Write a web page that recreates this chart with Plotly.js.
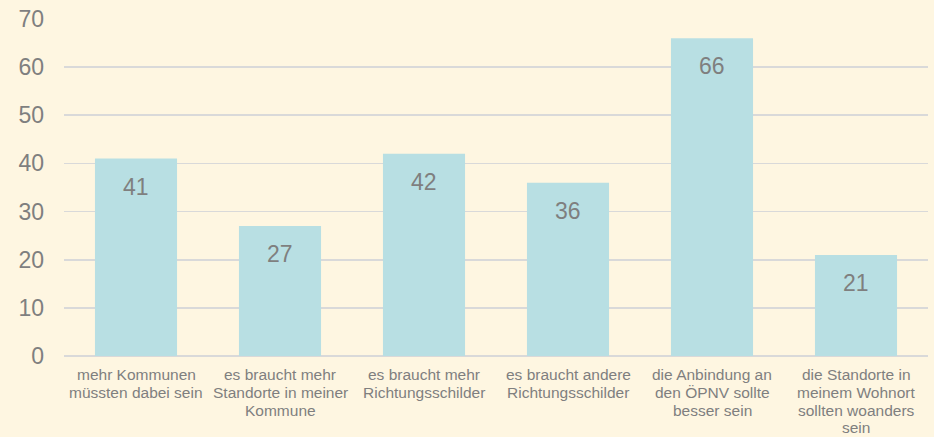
<!DOCTYPE html>
<html>
<head>
<meta charset="utf-8">
<script src="https://cdn.plot.ly/plotly-3.0.1.min.js"></script>
<style>html,body{margin:0;padding:0;background:#FEF6E1;}#chart{width:934px;height:437px;}</style>
</head>
<body>
<div id="chart"></div>
<script>
const categories = [
  "mehr Kommunen müssten dabei sein",
  "es braucht mehr Standorte in meiner Kommune",
  "es braucht mehr Richtungsschilder",
  "es braucht andere Richtungsschilder",
  "die Anbindung an den ÖPNV sollte besser sein",
  "die Standorte in meinem Wohnort sollten woanders sein"
];
const categoryLines = [
  ["mehr Kommunen", "müssten dabei sein"],
  ["es braucht mehr", "Standorte in meiner", "Kommune"],
  ["es braucht mehr", "Richtungsschilder"],
  ["es braucht andere", "Richtungsschilder"],
  ["die Anbindung an", "den ÖPNV sollte", "besser sein"],
  ["die Standorte in", "meinem Wohnort", "sollten woanders", "sein"]
];
const values = [41, 27, 42, 36, 66, 21];
const yTicks = [0, 10, 20, 30, 40, 50, 60, 70];

const FONT = 'Liberation Sans, Arial, sans-serif';
const GREY = '#7F7F7F';

const trace = {
  type: 'bar',
  x: categories,
  y: values,
  marker: {color: '#B8DFE3'},
  width: 0.57,
  hoverinfo: 'x+y'
};

const annotations = [];
categories.forEach((c, i) => {
  annotations.push({
    x: c, y: values[i], xref: 'x', yref: 'y',
    text: String(values[i]), showarrow: false,
    yanchor: 'top', yshift: -13,
    font: {family: FONT, size: 23, color: GREY}
  });
  categoryLines[i].forEach((line, j) => {
    annotations.push({
      x: c, y: 0, xref: 'x', yref: 'y',
      text: line, showarrow: false,
      yanchor: 'middle', yshift: -(18.6 + 17.7 * j),
      font: {family: FONT, size: 15.5, color: GREY}
    });
  });
});

const layout = {
  width: 934, height: 437,
  margin: {l: 64, r: 6, t: 19, b: 81},
  paper_bgcolor: '#FEF6E1',
  plot_bgcolor: '#FEF6E1',
  showlegend: false,
  font: {family: FONT, color: GREY},
  xaxis: {
    type: 'category',
    showticklabels: false,
    showgrid: false, showline: false, ticks: '',
    automargin: false
  },
  yaxis: {
    range: [0, 70],
    tickvals: yTicks,
    ticktext: yTicks.map(String),
    tickfont: {family: FONT, size: 23, color: GREY},
    gridcolor: '#D9D9D9', gridwidth: 1.6,
    zeroline: true, zerolinecolor: '#D9D9D9', zerolinewidth: 2,
    showline: false, ticks: '', automargin: false,
    ticklabelstandoff: 19
  },
  annotations: annotations
};

Plotly.newPlot('chart', [trace], layout, {displayModeBar: false, staticPlot: true});
</script>
</body>
</html>
